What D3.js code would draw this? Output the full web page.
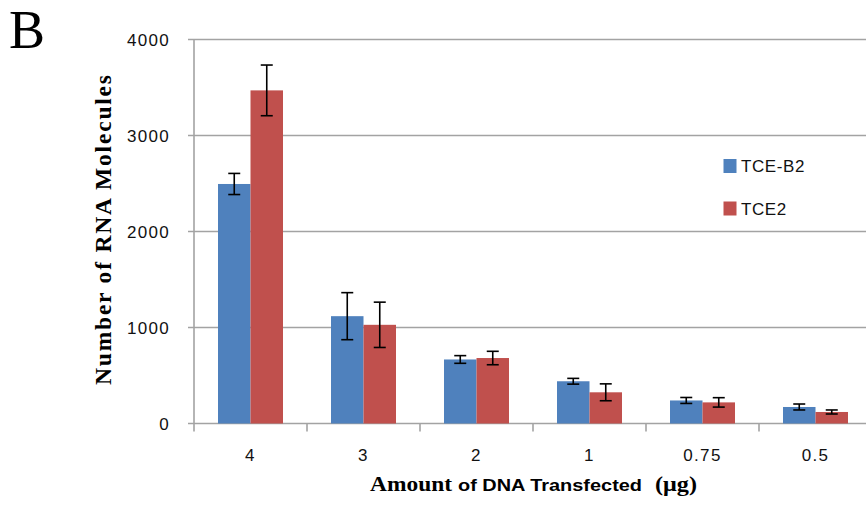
<!DOCTYPE html>
<html><head><meta charset="utf-8">
<script src="https://cdn.jsdelivr.net/npm/d3@7"></script>
<style>body{margin:0;background:#fff}svg{display:block}</style>
</head><body>
<svg id="c" width="866" height="508"></svg>
<script>
const categories = ["4", "3", "2", "1", "0.75", "0.5"];
const seriesNames = ["TCE-B2", "TCE2"];
const tceB2 = [2495, 1118, 667, 440, 240, 172];
const tceB2Err = [110, 245, 40, 30, 31, 31];
const tce2 = [3470, 1028, 682, 325, 220, 120];
const tce2Err = [264, 236, 70, 88, 49, 21];
const yTicks = [0, 1000, 2000, 3000, 4000];
const colors = ["#4F81BD", "#C0504D"];

(function () {
const svg = d3.select("#c");
const pLeft = 194, pRight = 872, pTop = 39.5, pBottom = 423.5;
const x0 = d3.scaleBand().domain(categories).range([pLeft, pRight]).padding(0);
const x1 = d3.scaleBand().domain(seriesNames).range([24, 89]).padding(0);
const y = d3.scaleLinear().domain([0, 4000]).range([pBottom, pTop]);
const gray = "#a3a3a3";

// gridlines
svg.append("g").selectAll("line").data(yTicks).join("line")
  .attr("x1", pLeft - 6).attr("x2", 866).attr("y1", d => y(d)).attr("y2", d => y(d))
  .attr("stroke", gray).attr("stroke-width", 1.6);
// y axis line
svg.append("line").attr("x1", pLeft).attr("x2", pLeft).attr("y1", pTop).attr("y2", pBottom + 8)
  .attr("stroke", gray).attr("stroke-width", 1.6);
// x ticks
svg.append("g").selectAll("line").data(categories.slice(1)).join("line")
  .attr("x1", d => x0(d)).attr("x2", d => x0(d)).attr("y1", pBottom).attr("y2", pBottom + 8)
  .attr("stroke", gray).attr("stroke-width", 1.6);

// y tick labels
svg.append("g").selectAll("text").data(yTicks).join("text")
  .attr("x", 170).attr("y", d => y(d)).attr("dy", "0.36em").attr("text-anchor", "end")
  .attr("font-family", "Liberation Sans, Arial, sans-serif").attr("font-size", 17)
  .attr("letter-spacing", 1.3).attr("fill", "#111").text(d => d);
// x tick labels
svg.append("g").selectAll("text").data(categories).join("text")
  .attr("x", d => x0(d) + x0.bandwidth() / 2).attr("y", 461).attr("text-anchor", "middle")
  .attr("font-family", "Liberation Sans, Arial, sans-serif").attr("font-size", 17)
  .attr("letter-spacing", 1.3).attr("fill", "#111").text(d => d);

// bars
const series = [
  {name: seriesNames[0], vals: tceB2, err: tceB2Err, color: colors[0]},
  {name: seriesNames[1], vals: tce2, err: tce2Err, color: colors[1]}
];
series.forEach(s => {
  const g = svg.append("g");
  g.selectAll("rect").data(categories).join("rect")
    .attr("x", (c) => x0(c) + x1(s.name))
    .attr("width", x1.bandwidth())
    .attr("y", (c, i) => y(s.vals[i]))
    .attr("height", (c, i) => y(0) - y(s.vals[i]))
    .attr("fill", s.color);
});
series.forEach(s => {
  const g = svg.append("g").attr("stroke", "#000").attr("stroke-width", 1.6);
  categories.forEach((c, i) => {
    const cx = x0(c) + x1(s.name) + x1.bandwidth() / 2;
    const hi = y(s.vals[i] + s.err[i]), lo = y(s.vals[i] - s.err[i]);
    g.append("line").attr("x1", cx).attr("x2", cx).attr("y1", hi).attr("y2", lo);
    g.append("line").attr("x1", cx - 6).attr("x2", cx + 6).attr("y1", hi).attr("y2", hi);
    g.append("line").attr("x1", cx - 6).attr("x2", cx + 6).attr("y1", lo).attr("y2", lo);
  });
});

// legend
const leg = svg.append("g");
series.forEach((s, i) => {
  const ly = 166 + i * 42.5;
  leg.append("rect").attr("x", 723.5).attr("y", ly - 7).attr("width", 13).attr("height", 14).attr("fill", s.color);
  leg.append("text").attr("x", 741).attr("y", ly).attr("dy", "0.36em")
    .attr("font-family", "Liberation Sans, Arial, sans-serif").attr("font-size", 17)
    .attr("letter-spacing", 0.6).attr("fill", "#111").text(s.name);
});

// panel letter
svg.append("text").attr("x", 9).attr("y", 48).attr("font-family", "Liberation Serif, Times New Roman, serif")
  .attr("font-size", 54).attr("fill", "#000").text("B");

// y title
svg.append("text").attr("transform", "translate(111,230) rotate(-90)").attr("text-anchor", "middle")
  .attr("font-family", "Liberation Serif, Times New Roman, serif").attr("font-weight", "bold")
  .attr("font-size", 23.5).attr("textLength", 310).attr("lengthAdjust", "spacing").attr("fill", "#000")
  .text("Number of RNA Molecules");

// x title
const xt = svg.append("text").attr("x", 370).attr("y", 491).attr("fill", "#000").attr("font-weight", "bold");
xt.append("tspan").attr("font-family", "Liberation Serif, Times New Roman, serif").attr("font-size", 20)
  .attr("textLength", 82).attr("lengthAdjust", "spacingAndGlyphs").text("Amount");
xt.append("tspan").attr("x", 458).attr("font-family", "Liberation Sans, Arial, sans-serif").attr("font-size", 17)
  .attr("textLength", 184).attr("lengthAdjust", "spacingAndGlyphs").text("of DNA Transfected");
xt.append("tspan").attr("x", 655).attr("font-family", "Liberation Serif, Times New Roman, serif").attr("font-size", 20)
  .attr("textLength", 42).attr("lengthAdjust", "spacingAndGlyphs").text("(μg)");
})();
</script>
</body></html>
